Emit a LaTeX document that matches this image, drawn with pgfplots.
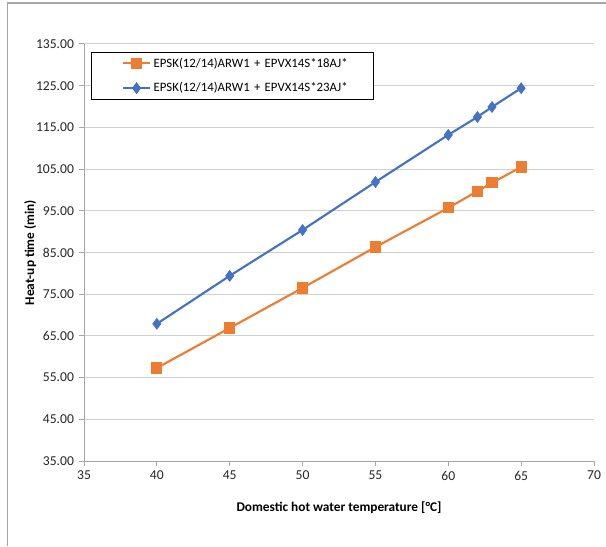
\documentclass[border=0pt]{standalone}
\usepackage{fontspec}
\setmainfont{Carlito}
\usepackage{pgfplots}
\pgfplotsset{compat=1.18}
\definecolor{sorange}{HTML}{ED7D31}
\definecolor{sblue}{HTML}{4472C4}
\definecolor{gridc}{HTML}{D0D0D0}
\definecolor{axc}{HTML}{A6A6A6}
\begin{document}
\begin{tikzpicture}
\useasboundingbox (0,0) rectangle (454.5pt,409.5pt);
\draw[axc, line width=0.9pt] (5.6pt,0) -- (5.6pt,407.2pt) -- (454.5pt,407.2pt);
\begin{axis}[
  at={(63pt,63.75pt)}, anchor=south west,
  width=382.5pt, height=312.75pt, scale only axis,
  xmin=35, xmax=70, ymin=35, ymax=135,
  xtick={35,40,...,70}, ytick={35,45,...,135},
  axis x line*=bottom, axis y line*=left,
  axis line style={axc, line width=0.75pt, -},
  ymajorgrids, grid style={gridc, line width=0.75pt},
  tick style={axc, line width=0.75pt},
  major tick length=4pt,
  xtick align=outside, ytick align=outside,
  tick label style={font=\fontsize{10.2}{12}\selectfont, text=black!85},
  /pgf/number format/assume math mode=true,
  yticklabel style={/pgf/number format/.cd, fixed, fixed zerofill, precision=2},
  xticklabel style={/pgf/number format/.cd, fixed, precision=0},
  xlabel={\textbf{Domestic hot water temperature [°C]}},
  ylabel={\textbf{Heat-up time (min)}},
  label style={font=\fontsize{10}{12}\selectfont},
  xlabel style={yshift=-9pt},
  ylabel style={yshift=-7pt},
  legend style={at={(axis cs:35.48,133.1)}, anchor=north west, draw=black, line width=0.75pt,
    font=\fontsize{9.6}{11}\selectfont, inner xsep=14pt, inner ysep=2pt, row sep=6pt,
    text width=149pt},
  legend cell align=left,
  legend image code/.code={%
    \path (-9pt,0pt);
    \draw[mark repeat=2,mark phase=2,#1] plot coordinates {(0pt,0pt) (10pt,0pt) (20pt,0pt)};},
]
\addplot[sorange, line width=1.6pt, mark=square*, mark size=3.4pt, mark options={solid}] coordinates {
(40,57.3) (45,66.9) (50,76.5) (55,86.3) (60,95.7) (62,99.7) (63,101.7) (65,105.5)
};
\addlegendentry{EPSK(12/14)ARW1 + EPVX14S*18AJ*}
\addplot[sblue, line width=1.6pt, mark=diamond*, mark size=3.2pt, mark options={solid}] coordinates {
(40,67.9) (45,79.4) (50,90.4) (55,101.9) (60,113.2) (62,117.5) (63,119.9) (65,124.4)
};
\addlegendentry{EPSK(12/14)ARW1 + EPVX14S*23AJ*}
\end{axis}
\end{tikzpicture}
\end{document}
